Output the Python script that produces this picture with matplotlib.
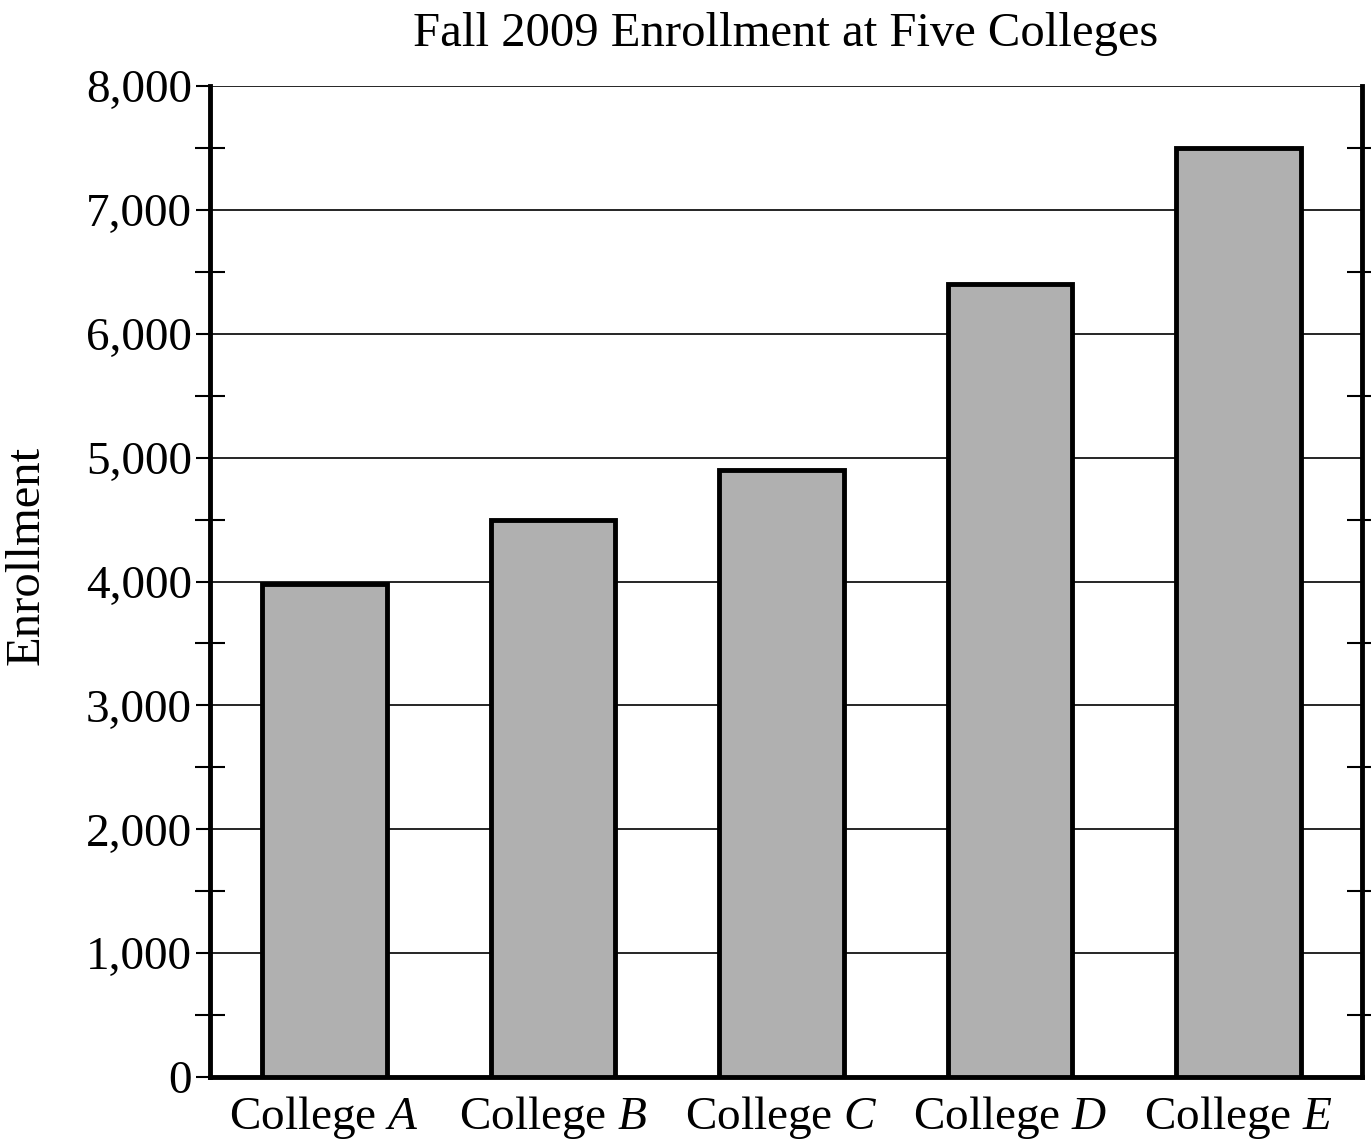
import matplotlib
matplotlib.use("Agg")
import matplotlib.pyplot as plt
from matplotlib.ticker import MultipleLocator, FuncFormatter

# ==========================
# Data
# ==========================

colleges = ["A", "B", "C", "D", "E"]
enrollment = [3980, 4500, 4900, 6400, 7500]
y_ticks = [0, 1000, 2000, 3000, 4000, 5000, 6000, 7000, 8000]

# ==========================
# Fonts
# ==========================

plt.rcParams["font.family"] = ["Liberation Serif", "DejaVu Serif"]
plt.rcParams["mathtext.fontset"] = "custom"
plt.rcParams["mathtext.rm"] = "Liberation Serif"
plt.rcParams["mathtext.it"] = "Liberation Serif:italic"

fig = plt.figure(figsize=(13.71, 11.43), dpi=100)
ax = fig.add_axes([0.1532, 0.0577, 0.8402, 0.8671])

x = list(range(len(colleges)))

ax.bar(
    x,
    enrollment,
    width=0.545,
    color="#b0b0b0",
    edgecolor="black",
    linewidth=3.5,
    zorder=3
)

ax.set_xlim(-0.5, 4.54)
ax.set_ylim(0, 8000)

# grid lines at the major ticks
ax.set_yticks(y_ticks)
ax.yaxis.grid(True, color="black", linewidth=1.2, zorder=0)
ax.set_axisbelow(True)

ax.yaxis.set_major_formatter(
    FuncFormatter(lambda v, p: f"{int(v):,}")
)
ax.yaxis.set_minor_locator(MultipleLocator(500))

ax.tick_params(
    axis="y",
    which="major",
    direction="out",
    length=10,
    width=1.5,
    labelsize=34,
    pad=3,
    right=False
)

ax.tick_params(
    axis="y",
    which="minor",
    direction="inout",
    length=22,
    width=1.5,
    right=True,
    left=True
)

ax.set_xticks(x)
ax.set_xticklabels([f"College ${c}$" for c in colleges])
ax.tick_params(axis="x", length=0, labelsize=34, pad=12)

for side in ["left", "right", "bottom"]:
    ax.spines[side].set_linewidth(3.5)
ax.spines["top"].set_visible(False)

ax.set_title(
    "Fall 2009 Enrollment at Five Colleges",
    fontsize=35,
    pad=29
)

ax.set_ylabel(
    "Enrollment",
    fontsize=35
)
ax.yaxis.set_label_coords(-0.14, 0.526)

plt.savefig("out.png", dpi=100)
plt.close()
